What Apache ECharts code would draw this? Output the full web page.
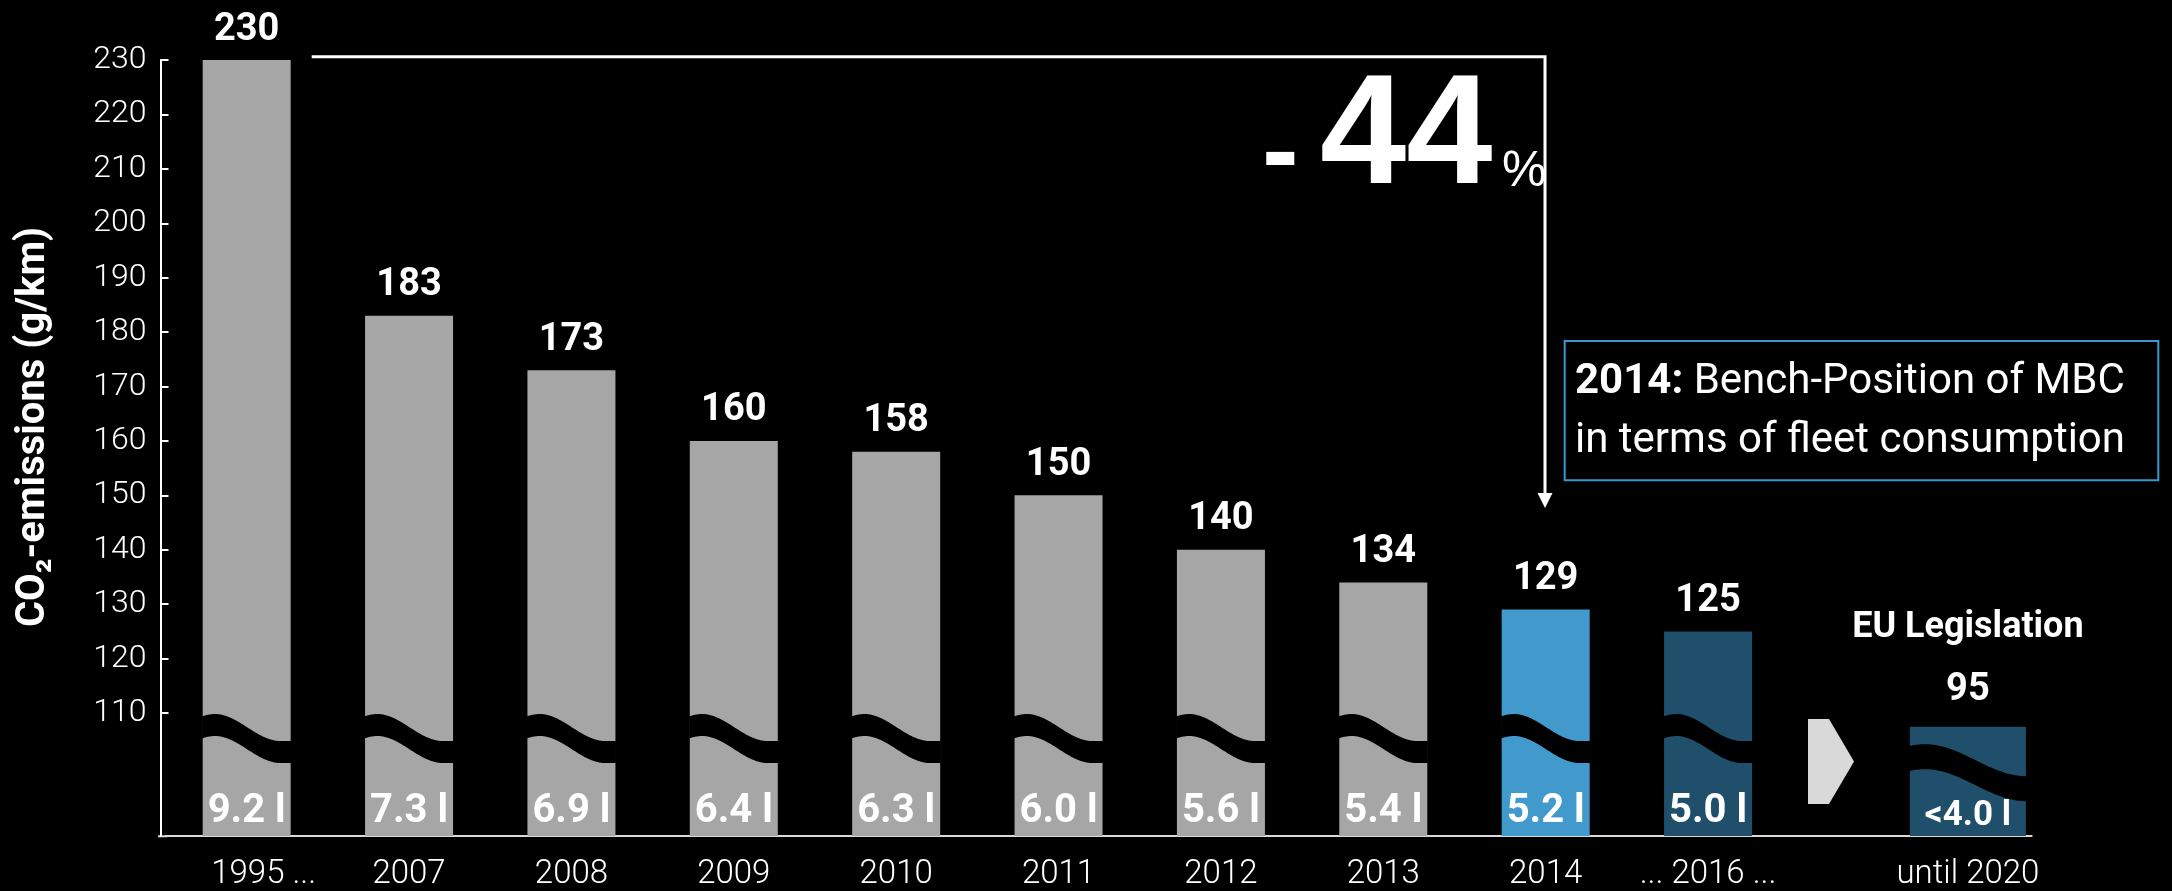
<!DOCTYPE html>
<html>
<head>
<meta charset="utf-8">
<script src="https://cdn.jsdelivr.net/npm/echarts@6/dist/echarts.min.js"></script>
<style>
html,body{margin:0;padding:0;background:#000;}
#chart{width:2172px;height:891px;}
</style>
</head>
<body>
<div id="chart"></div>
<script>
// ---------- data ----------
const categories = ['1995 ...', '2007', '2008', '2009', '2010', '2011', '2012', '2013', '2014', '... 2016 ...'];
const co2Values = [230, 183, 173, 160, 158, 150, 140, 134, 129, 125];
const consumption = ['9.2 l', '7.3 l', '6.9 l', '6.4 l', '6.3 l', '6.0 l', '5.6 l', '5.4 l', '5.2 l', '5.0 l'];
const targetCategory = ['', 'until 2020'];
const targetValue = [95];
const targetConsumption = ['<4.0 l'];
const targetTitle = 'EU Legislation';
const yTicks = [110, 120, 130, 140, 150, 160, 170, 180, 190, 200, 210, 220, 230];
const breakLevel = 110;
const reduction = '44';
const annotationBold = '2014:';
const annotationText = ' Bench-Position of MBC\nin terms of fleet consumption';
const yAxisTitle = 'CO\u2082-emissions (g/km)';

// ---------- styles ----------
const GRAY = '#a6a6a6', BLUE = '#419acb', DARK = '#1f4f6a';
const FONT = 'Roboto';
function barColor(name) {
  if (name === '2014') return BLUE;
  if (name === '... 2016 ...' || name === 'until 2020') return DARK;
  return GRAY;
}

function wavePoints(x0, y0, w, D, T, s0, s1, clampRight) {
  const N = 48, top = [], bot = [];
  for (let i = 0; i <= N; i++) {
    const t = i / N;
    let s = (t - s0) / (s1 - s0);
    if (clampRight) s = Math.min(1, s);
    const y = y0 + D * (1 - Math.cos(Math.PI * s)) / 2;
    const x = x0 + t * w;
    top.push([x, y]);
    bot.push([x, y + T]);
  }
  return top.concat(bot.reverse());
}

const chart = echarts.init(document.getElementById('chart'), null, {renderer: 'canvas'});

const xLabels = categories.concat(['']).map(function (c) {
  if (c === '1995 ...') return {value: c, textStyle: {padding: [0, 0, 0, 34]}};
  return c;
});

const option = {
  backgroundColor: '#000',
  animation: false,
  grid: [
    {left: 165.5, right: 220.4, top: 60, bottom: 54.7},
    {left: 1776.5, right: 140.3, top: 726.7, bottom: 54.7}
  ],
  xAxis: [
    {
      type: 'category', gridIndex: 0, data: xLabels,
      axisLine: {show: true, lineStyle: {color: '#d9d9d9', width: 2}},
      axisTick: {show: false},
      axisLabel: {color: '#fff', fontSize: 33, fontFamily: FONT, fontWeight: 300, margin: 22, interval: 0}
    },
    {
      type: 'category', gridIndex: 1, data: targetCategory,
      axisLine: {show: true, lineStyle: {color: '#d9d9d9', width: 2}},
      axisTick: {show: false},
      axisLabel: {color: '#fff', fontSize: 33, fontFamily: FONT, fontWeight: 300, margin: 22, interval: 0}
    }
  ],
  yAxis: [
    {
      type: 'value', gridIndex: 0, min: 87.4, max: 230, offset: 5,
      name: yAxisTitle, nameLocation: 'middle', nameRotate: 90, nameGap: 107,
      nameTextStyle: {color: '#fff', fontSize: 40, fontWeight: 'bold', fontFamily: FONT, padding: [0, 0, 0, 42]},
      axisLine: {show: true, lineStyle: {color: '#fff', width: 2}},
      axisTick: {show: true, inside: true, length: 8, customValues: yTicks, lineStyle: {color: '#fff', width: 2}},
      axisLabel: {customValues: yTicks, color: '#fff', fontSize: 32, fontFamily: FONT, fontWeight: 300, margin: 14},
      splitLine: {show: false}
    },
    {
      type: 'value', gridIndex: 1, min: 0, max: 95, show: false,
      splitLine: {show: false}
    }
  ],
  series: [
    {
      type: 'bar', xAxisIndex: 0, yAxisIndex: 0, barWidth: 88, z: 2,
      data: co2Values.map(function (v, i) {
        return {value: v, itemStyle: {color: barColor(categories[i])}};
      }),
      label: {show: true, position: 'top', distance: 11, color: '#fff', fontSize: 38, fontWeight: 'bold', fontFamily: FONT}
    },
    {
      type: 'custom', xAxisIndex: 0, yAxisIndex: 0, z: 3,
      data: co2Values.map(function (v, i) { return [i, v]; }),
      renderItem: function (params, api) {
        const idx = api.value(0);
        const p = api.coord([idx, breakLevel]);
        const w = 88;
        return {
          type: 'polygon',
          shape: {points: wavePoints(p[0] - w / 2 - 0.5, p[1] + 1, w + 1, 27, 22, 0.14, 0.88, true)},
          style: {fill: '#000'}
        };
      }
    },
    {
      type: 'bar', xAxisIndex: 0, yAxisIndex: 0, barWidth: 88, barGap: '-100%', z: 4,
      data: co2Values,
      itemStyle: {color: 'rgba(0,0,0,0)'},
      label: {
        show: true, position: 'insideBottom', distance: 4, color: '#fff', fontSize: 40, fontWeight: 'bold', fontFamily: FONT,
        formatter: function (p) { return consumption[p.dataIndex]; }
      }
    },
    {
      type: 'bar', xAxisIndex: 1, yAxisIndex: 1, barWidth: 116, z: 2,
      data: [null].concat(targetValue.map(function (v) { return {value: v, itemStyle: {color: barColor('until 2020')}}; })),
      label: {
        show: true, position: 'top', distance: 16, color: '#fff', fontFamily: FONT,
        formatter: function (p) { return '{t|' + targetTitle + '}\n{v|' + p.value + '}'; },
        rich: {
          t: {fontSize: 36, fontWeight: 'bold', color: '#fff', fontFamily: FONT, lineHeight: 85},
          v: {fontSize: 38, fontWeight: 'bold', color: '#fff', fontFamily: FONT, lineHeight: 40}
        }
      }
    },
    {
      type: 'custom', xAxisIndex: 1, yAxisIndex: 1, z: 3,
      data: targetValue.map(function (v) { return [1, v]; }),
      renderItem: function (params, api) {
        const top = api.coord([api.value(0), api.value(1)]);
        const bottom = api.coord([api.value(0), 0]);
        const w = 116;
        const y0 = top[1] + 0.16 * (bottom[1] - top[1]);
        return {
          type: 'polygon',
          shape: {points: wavePoints(top[0] - w / 2 - 0.5, y0, w + 1, 32, 25, 0.13, 1.0, false)},
          style: {fill: '#000'}
        };
      }
    },
    {
      type: 'bar', xAxisIndex: 1, yAxisIndex: 1, barWidth: 116, barGap: '-100%', z: 4,
      data: [null].concat(targetValue),
      itemStyle: {color: 'rgba(0,0,0,0)'},
      label: {
        show: true, position: 'insideBottom', distance: 2, color: '#fff', fontSize: 35, fontWeight: 'bold', fontFamily: FONT,
        formatter: function (p) { return targetConsumption[0]; }
      }
    }
  ],
  graphic: [
    // corner piece of baseline
    {type: 'line', shape: {x1: 158, y1: 836.3, x2: 167, y2: 836.3}, style: {stroke: '#d9d9d9', lineWidth: 2}, silent: true},
    // bracket line with arrow
    {type: 'polyline', shape: {points: [[311.7, 56.7], [1545, 56.7], [1545, 495]]}, style: {stroke: '#fff', lineWidth: 3, fill: null}, silent: true},
    {type: 'polygon', shape: {points: [[1537.5, 493], [1552.5, 493], [1545, 508]]}, style: {fill: '#fff'}, silent: true},
    // -44%
    {type: 'text', x: 1262, y: 157, style: {text: '-', fill: '#fff', font: 'bold 110px "Liberation Sans"', align: 'left', verticalAlign: 'middle'}, silent: true},
    {type: 'text', x: 1320, y: 140, style: {text: reduction, fill: '#fff', font: 'bold 155px "Liberation Sans"', align: 'left', verticalAlign: 'middle'}, silent: true},
    {type: 'text', x: 1502, y: 172, style: {text: '%', fill: '#fff', font: '50px "Liberation Sans"', align: 'left', verticalAlign: 'middle'}, silent: true},
    // annotation box
    {type: 'rect', shape: {x: 1564.7, y: 341, width: 593.6, height: 139.3}, style: {stroke: '#3a97cf', lineWidth: 2, fill: null}, silent: true},
    {type: 'text', x: 1575, y: 411.8, style: {
      text: '{b|' + annotationBold + '}' + annotationText,
      fill: '#fff', font: '42px Roboto', lineHeight: 58.7, align: 'left', verticalAlign: 'middle',
      rich: {b: {fontWeight: 'bold', fontSize: 42, fontFamily: 'Roboto', fill: '#fff', lineHeight: 58.7}}
    }, silent: true},
    // chevron arrow
    {type: 'polygon', shape: {points: [[1808, 719], [1829, 719], [1854, 761.5], [1829, 804], [1808, 804]]}, style: {fill: '#d9d9d9'}, silent: true}
  ]
};
chart.setOption(option);
</script>
</body>
</html>
